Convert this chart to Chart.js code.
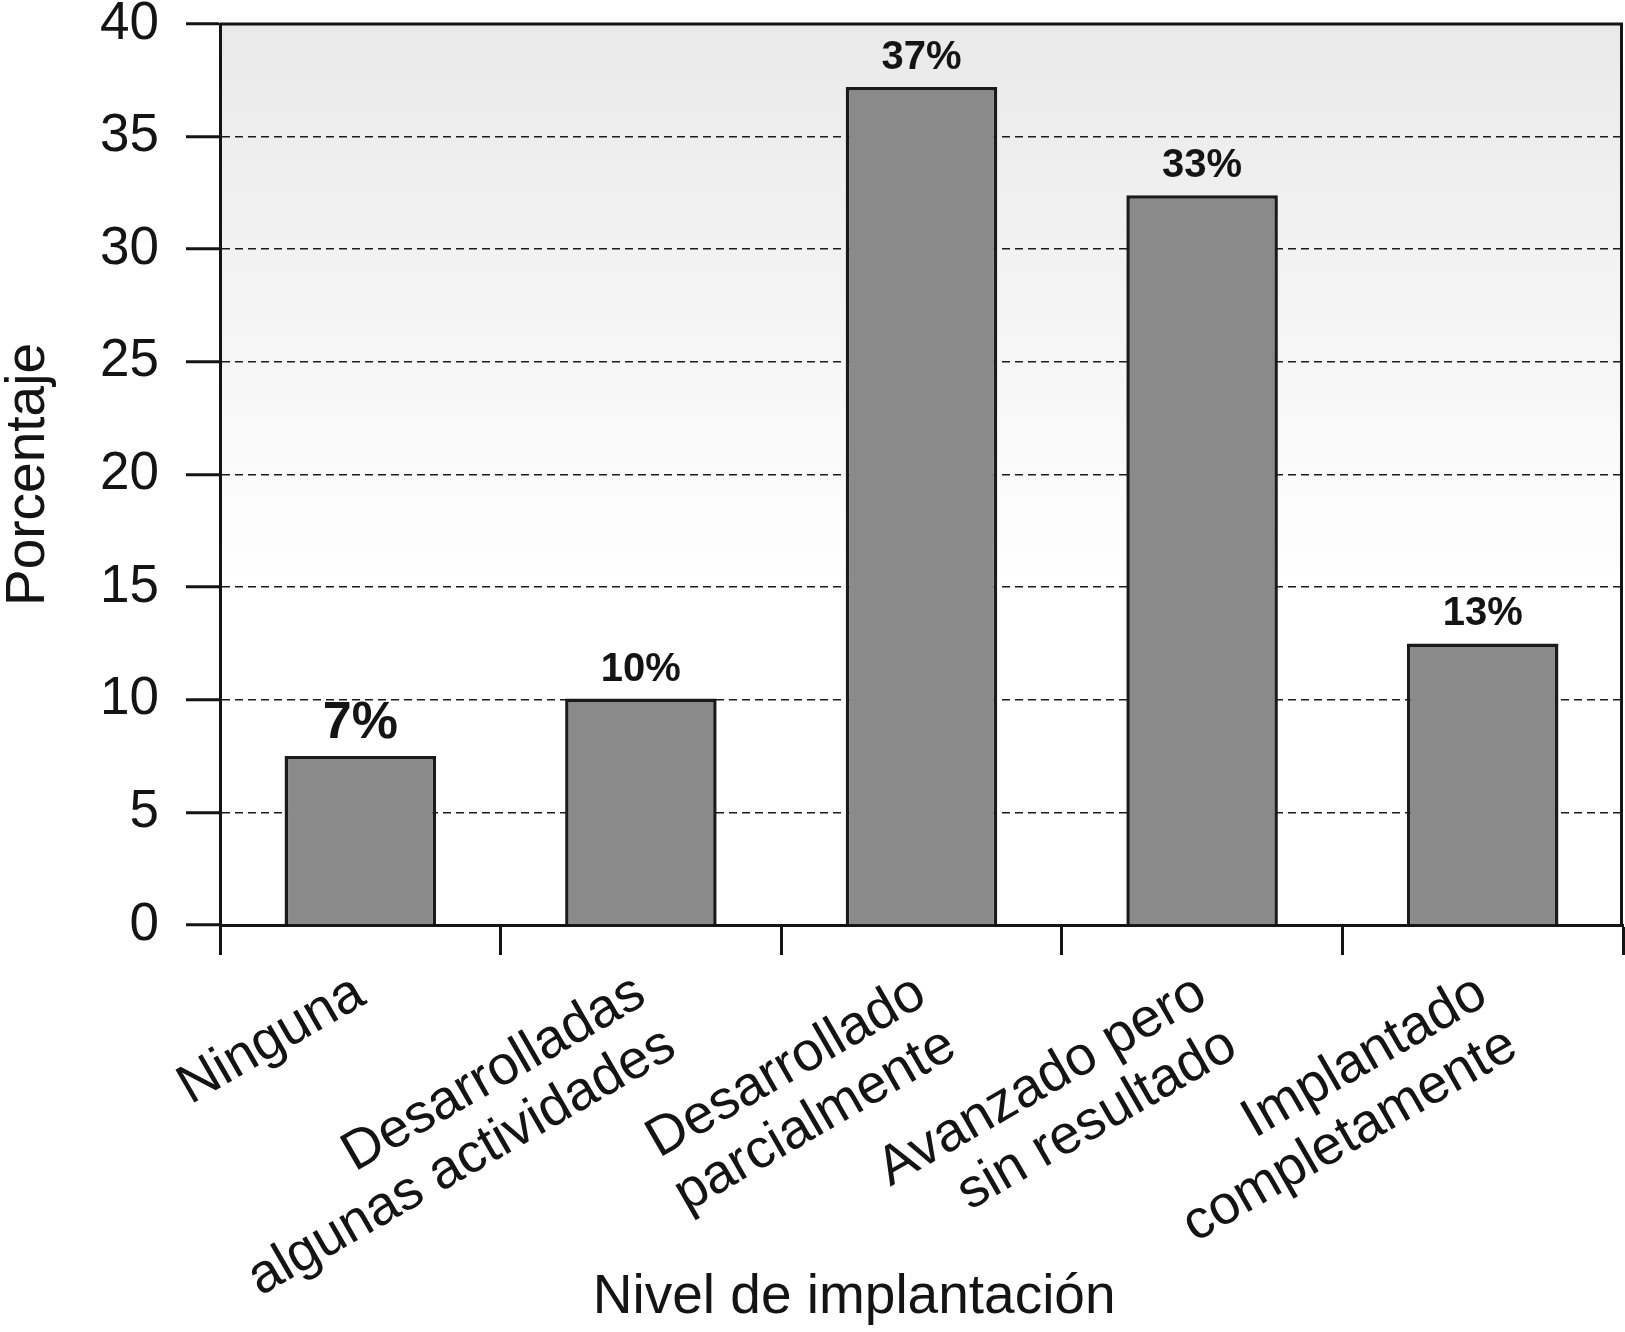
<!DOCTYPE html>
<html>
<head>
<meta charset="utf-8">
<script src="https://cdn.jsdelivr.net/npm/chart.js@4.4.0/dist/chart.umd.min.js"></script>
<style>
  html, body { margin: 0; padding: 0; background: #fff; }
  #wrap { width: 1625px; height: 1332px; }
</style>
</head>
<body>
<div id="wrap"><canvas id="chart-bars"></canvas></div>
<script>
// data
const categories = [
    'Ninguna',
    ['Desarrolladas', 'algunas actividades'],
    ['Desarrollado', 'parcialmente'],
    ['Avanzado pero', 'sin resultado'],
    ['Implantado', 'completamente']
];
const percentages = [7.5, 10.05, 37.2, 32.4, 12.5];
const percentLabels = ['7%', '10%', '37%', '33%', '13%'];
const yTicks = [0, 5, 10, 15, 20, 25, 30, 35, 40];

const FONT = "'Liberation Sans', Arial, Helvetica, sans-serif";
const INK = '#141414';

// gray fade behind the plot
const plotBackground = {
    id: 'plotBackground',
    beforeDraw(chart) {
        const {ctx, chartArea: a} = chart;
        const g = ctx.createLinearGradient(0, a.top, 0, a.bottom);
        g.addColorStop(0, '#e9e9e9');
        g.addColorStop(0.63, '#ffffff');
        g.addColorStop(1, '#ffffff');
        ctx.save();
        ctx.fillStyle = g;
        ctx.fillRect(a.left, a.top, a.right - a.left, a.bottom - a.top);
        ctx.restore();
    }
};

// top / right frame, value labels, x title
const extras = {
    id: 'extras',
    afterDatasetsDraw(chart, args, opts) {
        const {ctx, chartArea: a} = chart;
        ctx.save();
        ctx.strokeStyle = INK;
        ctx.lineWidth = 3;
        ctx.beginPath();
        ctx.moveTo(a.left, a.top);
        ctx.lineTo(a.right - 1.5, a.top);
        ctx.lineTo(a.right - 1.5, a.bottom);
        ctx.stroke();

        ctx.fillStyle = INK;
        ctx.textAlign = 'center';
        ctx.textBaseline = 'alphabetic';
        chart.getDatasetMeta(0).data.forEach((bar, i) => {
            const size = i === 0 ? opts.bigSize : opts.size;
            ctx.font = 'bold ' + size + 'px ' + FONT;
            ctx.fillText(percentLabels[i], bar.x, bar.y - 18);
        });

        const xs = chart.scales.x;
        ctx.font = '55px ' + FONT;
        ctx.fillText(opts.xTitle, xs.left + (xs.right - xs.left) * 0.452, chart.height - 19);
        ctx.restore();
    }
};

const data = {
    labels: categories,
    datasets: [{
        data: percentages,
        backgroundColor: '#8a8a8a',
        borderColor: '#1a1a1a',
        borderWidth: 3.5,
        barPercentage: 0.9,
        categoryPercentage: 0.6
    }]
};

const config = {
    type: 'bar',
    data,
    plugins: [plotBackground, extras],
    options: {
        responsive: true,
        maintainAspectRatio: false,
        animation: false,
        layout: { padding: { top: 0, right: 2, left: 0, bottom: 0 } },
        plugins: {
            legend: { display: false },
            tooltip: { enabled: false },
            extras: { size: 40, bigSize: 52, xTitle: 'Nivel de implantación' }
        },
        scales: {
            x: {
                afterFit(scale) { scale.height = 407; },
                grid: {
                    offset: true,
                    drawOnChartArea: false,
                    drawTicks: true,
                    tickLength: 30,
                    tickWidth: 3,
                    tickColor: INK
                },
                border: { display: true, color: INK, width: 3 },
                ticks: {
                    autoSkip: false,
                    maxRotation: 30,
                    minRotation: 30,
                    padding: 8,
                    color: INK,
                    font: { family: FONT, size: 55, lineHeight: 1.1 }
                }
            },
            y: {
                min: 0,
                max: 40,
                afterFit(scale) {
                    scale.width = 220;
                    scale.paddingTop = 24;
                    scale.paddingBottom = 0;
                },
                afterBuildTicks(scale) { scale.ticks = yTicks.map(v => ({ value: v })); },
                grid: {
                    color: '#1c1c1c',
                    lineWidth: 1.6,
                    drawTicks: true,
                    tickLength: 34,
                    tickWidth: 3,
                    tickColor: INK
                },
                border: { display: true, color: INK, width: 3, dash: [8, 5] },
                ticks: {
                    padding: 27,
                    color: INK,
                    font: { family: FONT, size: 53 }
                },
                title: {
                    display: true,
                    text: 'Porcentaje',
                    color: INK,
                    padding: { top: 0, bottom: 4 },
                    font: { family: FONT, size: 55, lineHeight: 1.05 }
                }
            }
        }
    }
};

// render init block
const myChart = new Chart(
    document.getElementById('chart-bars'),
    config
);
</script>
</body>
</html>
